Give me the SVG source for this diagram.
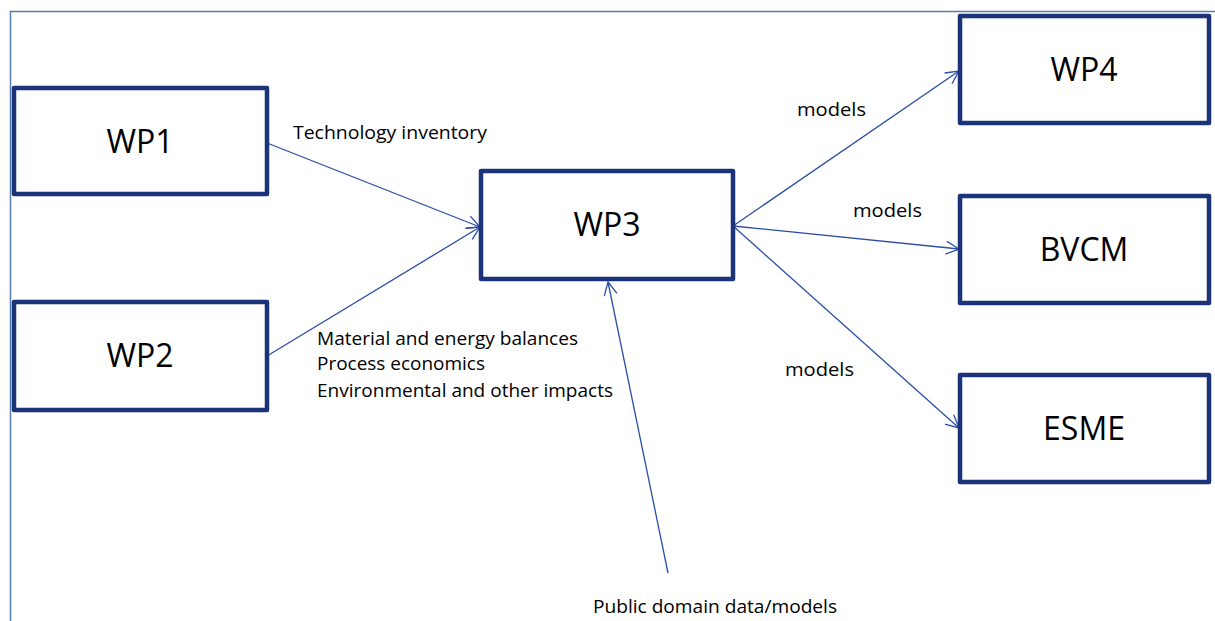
<svg xmlns="http://www.w3.org/2000/svg" width="1215" height="621" viewBox="0 0 1215 621">
<style>
.box{fill:#fff;stroke:#1b3378;stroke-width:4.5;stroke-linejoin:round}
.big{font-family:"Open Sans","Liberation Sans",sans-serif;font-size:32px;fill:#000;text-anchor:middle}
.lbl{font-family:"Open Sans","Liberation Sans",sans-serif;font-size:18.5px;fill:#000}
.con{stroke:#2a4ea6;stroke-width:1.3;fill:none;marker-end:url(#arr)}
.frame{stroke:#5a7bb0;stroke-width:1.5;fill:none}
</style>
<defs>
<marker id="arr" markerWidth="20" markerHeight="20" refX="14" refY="7" orient="auto" markerUnits="userSpaceOnUse">
<path d="M1,0.5 L14,7 L1,13.5" fill="none" stroke="#2a4ea6" stroke-width="1.3"/>
</marker>
</defs>
<path class="frame" d="M10.5,621 L10.5,11.5 L1215,11.5"/>
<g id="connectors">
<line class="con" x1="267" y1="143" x2="480" y2="227"/>
<line class="con" x1="267" y1="356" x2="480" y2="227"/>
<line class="con" x1="733" y1="226" x2="959" y2="71"/>
<line class="con" x1="733" y1="226" x2="959" y2="249"/>
<line class="con" x1="733" y1="226" x2="959" y2="428"/>
<line class="con" x1="668" y1="573" x2="608" y2="282"/>
<text class="lbl" x="293" y="139" textLength="194" lengthAdjust="spacingAndGlyphs">Technology inventory</text>
<text class="lbl" x="317" y="345" textLength="261" lengthAdjust="spacingAndGlyphs">Material and energy balances</text>
<text class="lbl" x="317" y="370" textLength="168" lengthAdjust="spacingAndGlyphs">Process economics</text>
<text class="lbl" x="317" y="397" textLength="296" lengthAdjust="spacingAndGlyphs">Environmental and other impacts</text>
<text class="lbl" x="797" y="116" textLength="69" lengthAdjust="spacingAndGlyphs">models</text>
<text class="lbl" x="853" y="217" textLength="69" lengthAdjust="spacingAndGlyphs">models</text>
<text class="lbl" x="785" y="376" textLength="69" lengthAdjust="spacingAndGlyphs">models</text>
<text class="lbl" x="593" y="613" textLength="244" lengthAdjust="spacingAndGlyphs">Public domain data/models</text>
</g>
<g id="WP1"><rect class="box" x="14" y="88" width="253" height="106"/><text class="big" x="140" y="153">WP1</text></g>
<g id="WP2"><rect class="box" x="14" y="302" width="253" height="108"/><text class="big" x="140" y="367">WP2</text></g>
<g id="WP3"><rect class="box" x="481" y="171" width="252" height="108"/><text class="big" x="607" y="236">WP3</text></g>
<g id="WP4"><rect class="box" x="960" y="16" width="249" height="107"/><text class="big" x="1084" y="81">WP4</text></g>
<g id="BVCM"><rect class="box" x="960" y="196" width="249" height="107"/><text class="big" x="1084" y="261">BVCM</text></g>
<g id="ESME"><rect class="box" x="960" y="375" width="249" height="107"/><text class="big" x="1084" y="440">ESME</text></g>
</svg>
